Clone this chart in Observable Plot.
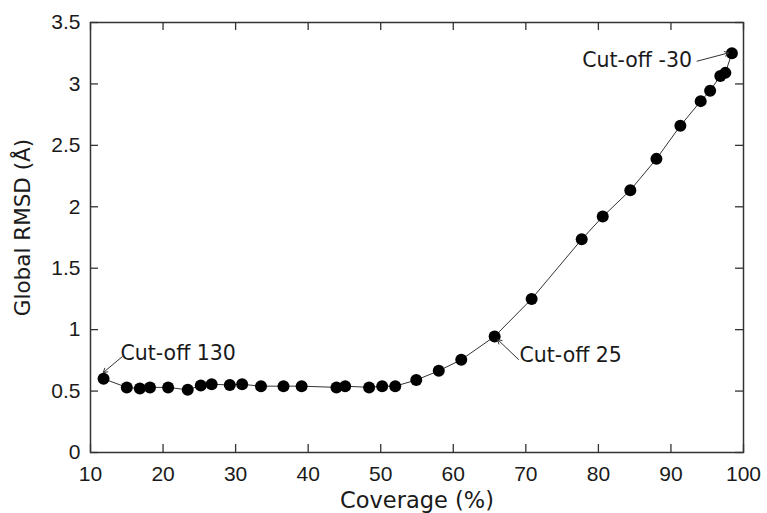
<!DOCTYPE html>
<html>
<head>
<meta charset="utf-8">
<script src="https://cdn.jsdelivr.net/npm/d3@7"></script>
<script src="https://cdn.jsdelivr.net/npm/@observablehq/plot@0.6"></script>
<style>
  html, body { margin: 0; padding: 0; background: #fff; }
</style>
</head>
<body>
<div id="chart"></div>
<script>
const coverage = [11.8, 15.0, 16.8, 18.2, 20.7, 23.4, 25.2, 26.7, 29.2, 30.9, 33.5, 36.6, 39.1, 43.9, 45.1, 48.4, 50.2, 52.0, 54.9, 58.0, 61.1, 65.7, 70.8, 77.7, 80.6, 84.4, 88.0, 91.3, 94.1, 95.4, 96.8, 97.5, 98.4];
const rmsd = [0.60, 0.53, 0.52, 0.53, 0.53, 0.51, 0.545, 0.555, 0.55, 0.555, 0.54, 0.54, 0.54, 0.53, 0.54, 0.53, 0.54, 0.54, 0.59, 0.665, 0.755, 0.945, 1.25, 1.735, 1.92, 2.135, 2.39, 2.66, 2.86, 2.945, 3.065, 3.09, 3.25];

const xTicks = [10, 20, 30, 40, 50, 60, 70, 80, 90, 100];
const yTicks = [0, 0.5, 1, 1.5, 2, 2.5, 3, 3.5];

const labelText = ["Cut-off 130", "Cut-off 25", "Cut-off -30"];
const labelX = [14.13, 69.13, 77.77];
const labelY = [0.81, 0.79, 3.19];
const arrowX1 = [14.37, 69.0, 93.6];
const arrowY1 = [0.78, 0.757, 3.185];
const arrowX2 = [11.75, 66.1, 97.96];
const arrowY2 = [0.65, 0.92, 3.253];

const xTitle = "Coverage (%)";
const yTitle = "Global RMSD (Å)";

const points = coverage.map((x, i) => ({x, y: rmsd[i]}));
const notes = labelText.map((t, i) => ({t, x: labelX[i], y: labelY[i], x1: arrowX1[i], y1: arrowY1[i], x2: arrowX2[i], y2: arrowY2[i]}));

const W = 767, H = 513;
const mL = 90, mR = 24, mT = 22, mB = 61;
const pw = W - mL - mR, ph = H - mT - mB;
const tk = 8;
const axisColor = "#333";

const chart = Plot.plot({
  width: W,
  height: H,
  marginLeft: mL, marginRight: mR, marginTop: mT, marginBottom: mB,
  style: {fontFamily: "Liberation Sans", fontSize: "21px", color: "#1a1a1a", background: "#fff"},
  x: {domain: [10, 100]},
  y: {domain: [0, 3.5]},
  marks: [
    Plot.axisX({ticks: xTicks, tickSize: 0, tickPadding: 14, tickFormat: d => String(d), label: null, fontSize: 21, fontFamily: "Liberation Sans"}),
    Plot.axisY({ticks: yTicks, tickSize: 0, tickPadding: 10, tickFormat: d => String(d), label: null, fontSize: 21, fontFamily: "Liberation Sans"}),
    Plot.tickX(xTicks, {x: d => d, insetTop: ph - tk, stroke: axisColor, strokeWidth: 1.3}),
    Plot.tickX(xTicks, {x: d => d, insetBottom: ph - tk, stroke: axisColor, strokeWidth: 1.3}),
    Plot.tickY(yTicks, {y: d => d, insetRight: pw - tk, stroke: axisColor, strokeWidth: 1.3}),
    Plot.tickY(yTicks, {y: d => d, insetLeft: pw - tk, stroke: axisColor, strokeWidth: 1.3}),
    Plot.frame({stroke: axisColor, strokeWidth: 1.5}),
    Plot.line(points, {x: "x", y: "y", stroke: "#333", strokeWidth: 1}),
    Plot.dot(points, {x: "x", y: "y", r: 6, fill: "#000", stroke: "none"}),
    Plot.arrow(notes, {x1: "x1", y1: "y1", x2: "x2", y2: "y2", stroke: "#333", strokeWidth: 1, headLength: 7}),
    Plot.text(notes, {x: "x", y: "y", text: "t", textAnchor: "start", fontFamily: "DejaVu Sans", fontSize: 20.5, fill: "#1a1a1a"}),
    Plot.text([xTitle], {text: d => d, frameAnchor: "bottom", textAnchor: "middle", lineAnchor: "middle", dy: 48, fontFamily: "DejaVu Sans", fontSize: 22.5, fill: "#1a1a1a"}),
    Plot.text([yTitle], {text: d => d, frameAnchor: "left", textAnchor: "middle", lineAnchor: "middle", rotate: -90, dx: -67, dy: -10, fontFamily: "DejaVu Sans", fontSize: 21.5, fill: "#1a1a1a"})
  ]
});
document.getElementById("chart").appendChild(chart);
</script>
</body>
</html>
